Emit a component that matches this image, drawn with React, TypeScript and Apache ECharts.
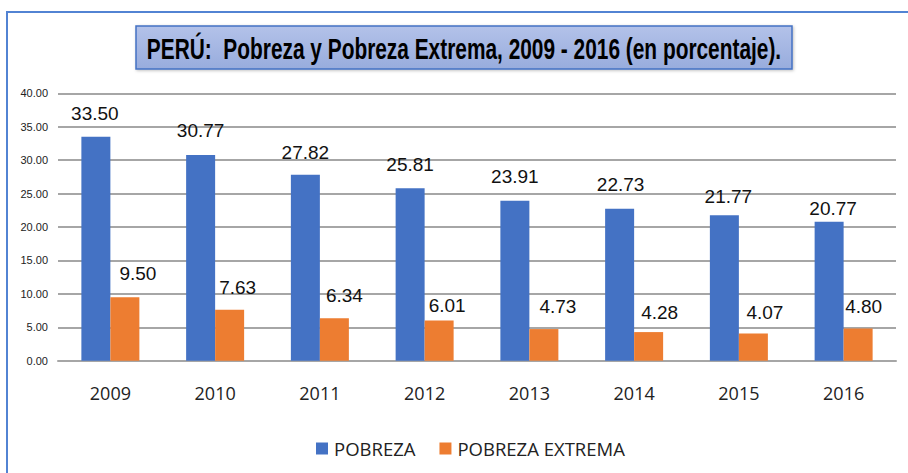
import React, { useEffect, useRef } from "react";
import * as echarts from "echarts";

const years = ["2009", "2010", "2011", "2012", "2013", "2014", "2015", "2016"];
const pobreza = [33.5, 30.77, 27.82, 25.81, 23.91, 22.73, 21.77, 20.77];
const extrema = [9.5, 7.63, 6.34, 6.01, 4.73, 4.28, 4.07, 4.8];
const yTicks = { min: 0, max: 40, interval: 5 };
const seriesNames = ["POBREZA", "POBREZA EXTREMA"];
const titleText = "PERÚ:  Pobreza y Pobreza Extrema, 2009 - 2016 (en porcentaje).";

// manual label nudges as in the reference (rise above bar top, horizontal shift)
const pobLabelRise = [23.7, 25, 22.6, 24, 24, 24, 19, 13];
const pobLabelDx = [-1, 0, 0, 0, 0, 1, 4, 4];
const extLabelRise = [24, 22, 22.6, 15, 23, 20, 21, 22.6];
const extLabelDx = [13, 8, 10, 8, 14, 11, 11.5, 5.5];

const VAL_FONT = "'Liberation Sans Narrow', 'Arial Narrow', 'Liberation Sans', sans-serif";

function withLabels(values: number[], rise: number[], dx: number[]) {
  return values.map((v, i) => ({
    value: v,
    label: { offset: [dx[i], -(rise[i] - 10)] },
  }));
}

export default function App() {
  const ref = useRef<HTMLDivElement>(null);
  useEffect(() => {
    if (!ref.current) return;
    const chart = echarts.init(ref.current, null, { renderer: "svg" });
    const valueLabel = {
      show: true,
      position: "top",
      distance: 0,
      fontFamily: VAL_FONT,
      fontSize: 19,
      lineHeight: 20,
      color: "#111",
      formatter: (p: any) => Number(p.value).toFixed(2),
    };
    chart.setOption({
      animation: false,
      backgroundColor: "#ffffff",
      graphic: [
        {
          type: "rect",
          shape: { x: 7, y: 12, width: 1000, height: 1000 },
          style: { fill: "none", stroke: "#5283d3", lineWidth: 2 },
          silent: true,
          z: 0,
        },
        {
          type: "rect",
          shape: { x: 136, y: 26, width: 656, height: 43 },
          style: {
            fill: new echarts.graphic.LinearGradient(0, 0, 0, 1, [
              { offset: 0, color: "#b3c2e9" },
              { offset: 1, color: "#98acdd" },
            ]),
            stroke: "#4472c4",
            lineWidth: 1.5,
            shadowBlur: 3,
            shadowOffsetX: 1,
            shadowOffsetY: 1,
            shadowColor: "rgba(0,0,0,0.25)",
          },
          z: 1,
        },
        {
          type: "text",
          x: 464,
          y: 49,
          scaleX: 0.72,
          style: {
            text: titleText,
            fontFamily: "'Liberation Sans', Arial, sans-serif",
            fontWeight: "bold",
            fontSize: 29,
            fill: "#000",
            align: "center",
            verticalAlign: "middle",
          },
          z: 2,
        },
      ],
      grid: { left: 58, right: 12, top: 93.3, bottom: 473 - 360.7 },
      legend: {
        left: 311,
        top: 434,
        itemWidth: 12,
        itemHeight: 12,
        itemGap: 24,
        icon: "rect",
        textStyle: { fontFamily: "'Open Sans', sans-serif", fontSize: 18.5, color: "#222", padding: [0, 0, 0, 1] },
        data: seriesNames,
      },
      xAxis: {
        type: "category",
        data: years,
        axisLine: { show: true, lineStyle: { color: "#a6a6a6", width: 2 } },
        axisTick: { show: false },
        axisLabel: { margin: 23, fontFamily: "'Open Sans', sans-serif", fontSize: 18, color: "#222" },
      },
      yAxis: {
        type: "value",
        min: yTicks.min,
        max: yTicks.max,
        interval: yTicks.interval,
        axisLine: { show: false },
        axisTick: { show: false },
        axisLabel: {
          margin: 10,
          fontFamily: "'Liberation Sans', Arial, sans-serif",
          fontSize: 11,
          color: "#222",
          formatter: (v: number) => v.toFixed(2),
        },
        splitLine: { lineStyle: { color: "#a6a6a6", width: 2 } },
      },
      series: [
        {
          name: seriesNames[0],
          type: "bar",
          barWidth: 29,
          barGap: "0%",
          itemStyle: { color: "#4472c4" },
          label: valueLabel,
          data: withLabels(pobreza, pobLabelRise, pobLabelDx),
        },
        {
          name: seriesNames[1],
          type: "bar",
          barWidth: 29,
          barGap: "0%",
          itemStyle: { color: "#ed7d31" },
          label: valueLabel,
          data: withLabels(extrema, extLabelRise, extLabelDx),
        },
      ],
    });
    return () => chart.dispose();
  }, []);
  return (
    <div
      ref={ref}
      style={{ position: "fixed", left: 0, top: 0, width: 908, height: 473 }}
    />
  );
}
